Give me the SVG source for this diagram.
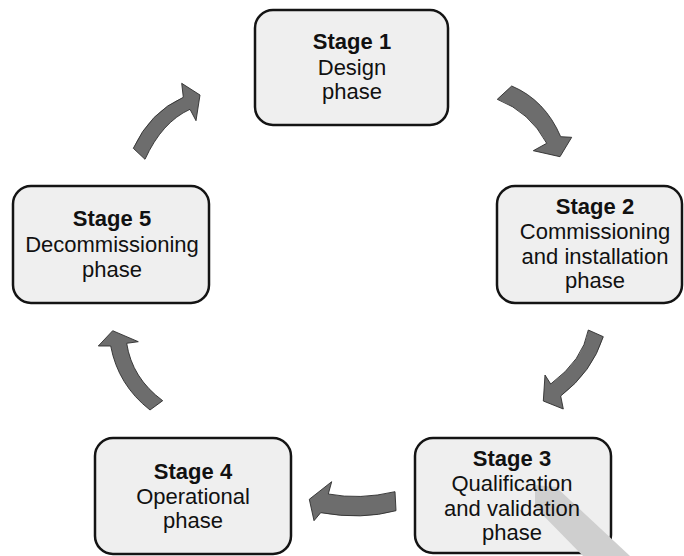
<svg xmlns="http://www.w3.org/2000/svg" width="684" height="556" viewBox="0 0 684 556">
  <style>
    .box { fill: #efefef; stroke: #141414; stroke-width: 2.5; }
    .lbl { font-family: "Liberation Sans", Arial, Helvetica, sans-serif; font-size: 22px; fill: #111; text-anchor: middle; }
    .hd { font-weight: bold; }
    .arrow { fill: #6d6d6d; stroke: #2e2e2e; stroke-width: 0.9; stroke-linejoin: miter; }
    .band { fill: #cfcfcf; }
  </style>
  <rect width="684" height="556" fill="#ffffff"/>

  <!-- cycle connectors -->
  <g id="connectors">
    <path class="arrow" d="M497.3,99.3 L511.7,86 Q545,100 560.7,136.7 L571.7,137.3 L560,156.7 L533.3,150.7 L546.7,143.3 Q530,112 497.3,99.3 Z"/>
    <path class="arrow" d="M588.3,330 L603.3,336.7 Q592,372 560.7,396 L563.3,409 L543.3,401 L545,375 L550.7,384 Q583,360 588.3,330 Z"/>
    <path class="arrow" d="M395,491.7 Q360,500 328.3,494 L331.7,481.7 L309.3,499.3 L314,520.7 L320.7,512.7 Q362,520 396,510.7 Z"/>
    <path class="arrow" d="M150,410 Q118,385 110.7,346 L98.3,346 L112.7,330.7 L138.3,341.7 L126.7,343.3 Q132,378 162.7,400.7 Z"/>
    <path class="arrow" d="M133.3,148.3 Q150,112 183.3,97.3 L181.7,83.3 L200,95 L196,120.7 L190,109.3 Q162,122 145,159.3 Z"/>
  </g>

  <g id="stage1">
    <rect class="box" x="255" y="10" width="193" height="115" rx="18"/>
    <text class="lbl hd" x="352" y="49">Stage 1</text>
    <text class="lbl" x="352" y="75">Design</text>
    <text class="lbl" x="352" y="99">phase</text>
  </g>

  <g id="stage2">
    <rect class="box" x="497" y="186" width="185" height="117" rx="18"/>
    <text class="lbl hd" x="595" y="214">Stage 2</text>
    <text class="lbl" x="595" y="239">Commissioning</text>
    <text class="lbl" x="595" y="264">and installation</text>
    <text class="lbl" x="595" y="288">phase</text>
  </g>

  <g id="stage3">
    <rect class="box" x="415" y="438" width="196" height="115" rx="18"/>
    <polygon class="band" points="535,485 556,487 630,556 583,556 535,507"/>
    <text class="lbl hd" x="512" y="466">Stage 3</text>
    <text class="lbl" x="512" y="491">Qualification</text>
    <text class="lbl" x="512" y="516">and validation</text>
    <text class="lbl" x="512" y="540">phase</text>
  </g>

  <g id="stage4">
    <rect class="box" x="95" y="438" width="196" height="116" rx="18"/>
    <text class="lbl hd" x="193" y="479">Stage 4</text>
    <text class="lbl" x="193" y="504">Operational</text>
    <text class="lbl" x="193" y="528">phase</text>
  </g>

  <g id="stage5">
    <rect class="box" x="13" y="186" width="196" height="117" rx="18"/>
    <text class="lbl hd" x="112" y="226">Stage 5</text>
    <text class="lbl" x="112" y="252">Decommissioning</text>
    <text class="lbl" x="112" y="277">phase</text>
  </g>
</svg>
